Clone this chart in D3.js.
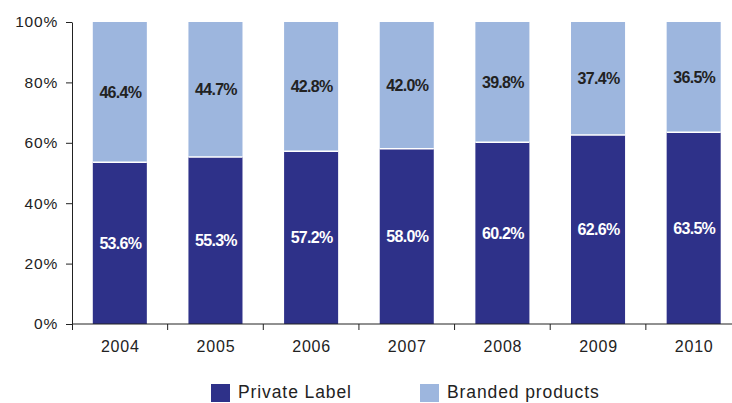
<!DOCTYPE html>
<html><head><meta charset="utf-8">
<script src="https://cdn.jsdelivr.net/npm/d3@7"></script>
<style>body{margin:0;background:#fff;font-family:"Liberation Sans",Arial,sans-serif;}</style>
</head><body><svg id="c" width="732" height="403"></svg>
<script>
const years = ["2004","2005","2006","2007","2008","2009","2010"];
const privateLabel = [53.6,55.3,57.2,58.0,60.2,62.6,63.5];
const branded = [46.4,44.7,42.8,42.0,39.8,37.4,36.5];
const yTicks = [0,20,40,60,80,100];
const seriesNames = ["Private Label","Branded products"];
const colors = ["#2e3189","#9db6de"];

const svg = d3.select("#c");
const x = d3.scaleBand().domain(years).range([72,741.5]).paddingInner(0.435).paddingOuter(0.2175);
const y = d3.scaleLinear().domain([0,100]).range([324,22]);

const g = svg.append("g");
years.forEach((yr,i)=>{
  const p = privateLabel[i], b = branded[i];
  g.append("rect").attr("x",x(yr)).attr("width",x.bandwidth())
    .attr("y",y(p)).attr("height",y(0)-y(p)).attr("fill",colors[0]);
  g.append("rect").attr("x",x(yr)).attr("width",x.bandwidth())
    .attr("y",y(100)).attr("height",y(p)-y(100)).attr("fill",colors[1]);
  g.append("line").attr("x1",x(yr)).attr("x2",x(yr)+x.bandwidth())
    .attr("y1",y(p)).attr("y2",y(p)).attr("stroke","#fff").attr("stroke-width",1.5);
  g.append("text").attr("x",x(yr)+x.bandwidth()/2+0.5).attr("y",(y(0)+y(p))/2)
    .attr("text-anchor","middle").attr("dominant-baseline","central")
    .attr("fill","#fff").attr("font-weight","bold").attr("font-size",16).attr("letter-spacing",-0.7)
    .text(p.toFixed(1)+"%");
  g.append("text").attr("x",x(yr)+x.bandwidth()/2+0.5).attr("y",(y(p)+y(100))/2)
    .attr("text-anchor","middle").attr("dominant-baseline","central")
    .attr("fill","#222").attr("font-weight","bold").attr("font-size",16).attr("letter-spacing",-0.7)
    .text(b.toFixed(1)+"%");
});

// y axis
const ya = svg.append("g").attr("transform","translate(72,0)")
  .call(d3.axisLeft(y).tickValues(yTicks).tickFormat(d=>d+"%").tickSize(6).tickSizeOuter(0).tickPadding(8));
ya.selectAll("text").attr("font-size",15.5).attr("letter-spacing",0.8).attr("fill","#222").attr("font-family","Liberation Sans, Arial, sans-serif");
ya.selectAll("line,path").attr("stroke","#222");

// x axis
const xa = svg.append("g").attr("transform","translate(0,324)");
xa.append("line").attr("x1",72).attr("x2",741.5).attr("y1",0).attr("y2",0).attr("stroke","#222");
const step = x.step();
years.forEach((yr,i)=>{
  const cx = x(yr)+x.bandwidth()/2;
  if(i>0){ xa.append("line").attr("x1",cx-step/2).attr("x2",cx-step/2).attr("y1",0).attr("y2",6).attr("stroke","#222"); }
  xa.append("text").attr("x",cx+0.5).attr("y",28).attr("text-anchor","middle")
    .attr("font-size",16).attr("letter-spacing",0.8).attr("fill","#222").text(yr);
});
xa.append("line").attr("x1",72.5).attr("x2",72.5).attr("y1",0).attr("y2",6).attr("stroke","#222");

// legend
const leg = svg.append("g");
const legX = [211,420];
seriesNames.forEach((n,i)=>{
  leg.append("rect").attr("x",legX[i]).attr("y",384).attr("width",19).attr("height",18).attr("fill",colors[i]);
  leg.append("text").attr("x",legX[i]+27).attr("y",398).attr("font-size",17.5).attr("letter-spacing",0.9).attr("fill","#222").text(n);
});
</script></body></html>
